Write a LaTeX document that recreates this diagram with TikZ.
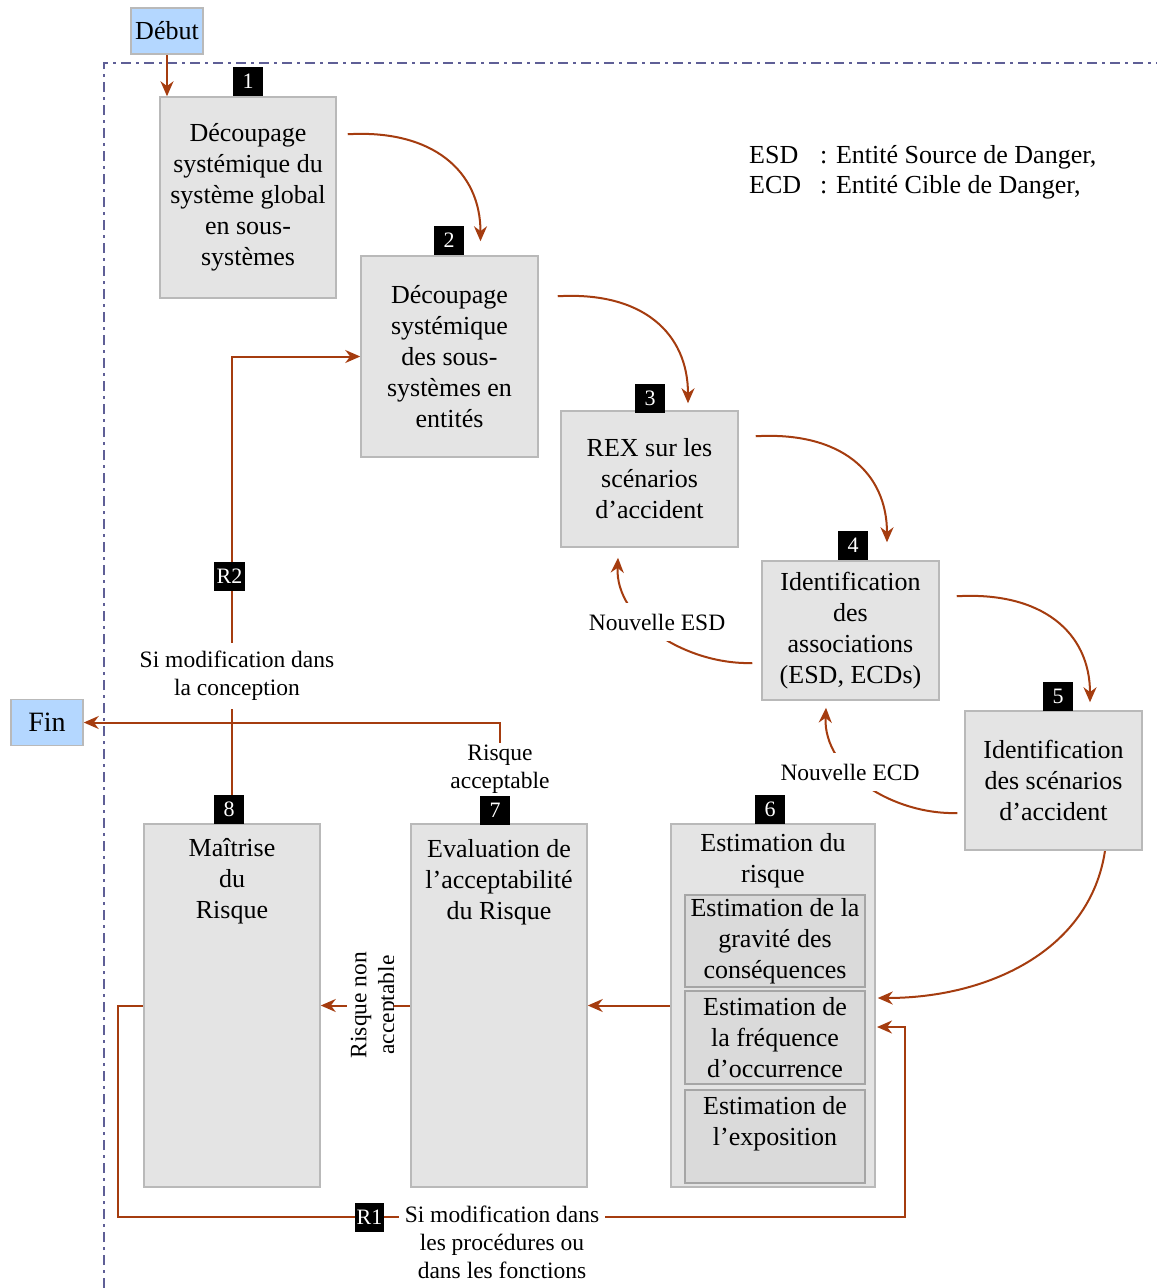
\documentclass[tikz,border=0pt]{standalone}
\usepackage{fontspec}
\setmainfont{Liberation Serif}
\usetikzlibrary{arrows.meta,backgrounds}
\definecolor{rust}{RGB}{165,60,15}
\definecolor{boxfill}{RGB}{228,228,228}
\definecolor{boxline}{RGB}{185,185,185}
\definecolor{subfill}{RGB}{218,218,218}
\definecolor{subline}{RGB}{165,165,165}
\definecolor{bluefill}{RGB}{180,215,255}
\definecolor{frameline}{RGB}{95,95,150}
\begin{document}
\begin{tikzpicture}[x=1pt,y=-1pt,
  box/.style={draw=boxline,fill=boxfill,line width=1.5pt,inner sep=0pt,align=center,font=\fontsize{26}{31}\selectfont},
  subbox/.style={draw=subline,fill=subfill,line width=1.2pt,inner sep=0pt,align=center,minimum width=180pt,font=\fontsize{26}{31}\selectfont},
  boxtext/.style={inner sep=0pt,align=center,anchor=north,font=\fontsize{26}{31}\selectfont},
  termbox/.style={draw=boxline,fill=bluefill,line width=1.5pt,inner sep=0pt,minimum width=72pt,minimum height=46pt},
  badge/.style={fill=black,text=white,inner sep=0pt,minimum width=30pt,minimum height=29pt,font=\fontsize{22}{24}\selectfont},
  lbl/.style={fill=white,align=center,inner sep=2pt,font=\fontsize{23.5}{28}\selectfont},
  arr/.style={draw=rust,line width=2pt,-{Stealth[length=15pt,width=13pt]}},
  framestyle/.style={draw=frameline,line width=1.5pt,dash pattern=on 10pt off 5pt on 3pt off 5pt}
]
\useasboundingbox (0,0) rectangle (1157,1288);

% terminals
\node[termbox,font=\fontsize{26}{31}\selectfont] (debut) at (167,31) {Début};
\node[termbox,font=\fontsize{28}{31}\selectfont] (fin) at (47,722.5) {Fin};

% boxes
\node[box,minimum width=176pt,minimum height=201pt] (b1) at (248,197.5)
  {\raisebox{-2pt}{\parbox{170pt}{\centering Découpage\\systémique du\\système global\\en sous-\\systèmes}}};
\node[box,minimum width=177pt,minimum height=201pt] (b2) at (449.5,356.5)
  {Découpage\\systémique\\des sous-\\systèmes en\\entités};
\node[box,minimum width=177pt,minimum height=136pt] (b3) at (649.5,479)
  {REX sur les\\scénarios\\d’accident};
\node[box,minimum width=177pt,minimum height=139pt] (b4) at (850.5,630.5)
  {Identification\\des\\associations\\(ESD, ECDs)};
\node[box,minimum width=177pt,minimum height=139pt] (b5) at (1053.5,780.5)
  {Identification\\des scénarios\\d’accident};
\node[box,minimum width=204pt,minimum height=363pt] (b6) at (773,1005.5) {};
\node[box,minimum width=176pt,minimum height=363pt] (b7) at (499,1005.5) {};
\node[box,minimum width=176pt,minimum height=363pt] (b8) at (232,1005.5) {};

\node[boxtext] (t6) at (773,833) {Estimation du\\risque};
\node[boxtext] (t7) at (499,839) {Evaluation de\\l’acceptabilité\\du Risque};
\node[boxtext] (t8) at (232,838) {Maîtrise\\du\\Risque};

\node[subbox,minimum height=92pt] (s1) at (775,941) {Estimation de la\\gravité des\\conséquences};
\node[subbox,minimum height=93pt] (s2) at (775,1037.5) {Estimation de\\la fréquence\\d’occurrence};
\node[subbox,minimum height=93pt] (s3) at (775,1136.5) {Estimation de\\l’exposition\\\mbox{}};

% badges
\node[badge] (n1) at (248,81.5) {1};
\node[badge] (n2) at (449,240) {2};
\node[badge] (n3) at (650,398.5) {3};
\node[badge] (n4) at (853,545) {4};
\node[badge] (n5) at (1058,696) {5};
\node[badge] (n6) at (770,809) {6};
\node[badge] (n7) at (495,810) {7};
\node[badge] (n8) at (229,809) {8};
\node[badge,minimum width=31pt] (r2) at (229.5,576.5) {R2};
\node[badge,minimum width=29pt] (r1) at (369.5,1217) {R1};

% legend
\node[anchor=north west,inner sep=0pt,font=\fontsize{26}{30}\selectfont] (legend) at (749,142)
  {\begin{tabular}{@{}l@{\hspace{19pt}}l@{}}ESD & : Entité Source de Danger,\\ ECD & : Entité Cible de Danger,\end{tabular}};

% labels
\node[lbl,inner xsep=5pt,inner ysep=11pt] (lesd) at (657,622) {Nouvelle ESD};
\node[lbl,inner xsep=5pt,inner ysep=11pt] (lecd) at (850,772) {Nouvelle ECD};
\node[lbl,inner ysep=8pt] (lconc) at (237,676) {Si modification dans\\la conception};
\node[lbl] (lra) at (500,769) {Risque\\acceptable};
\node[lbl,anchor=north,inner xsep=6pt] (lr1) at (502,1204) {Si modification dans\\les procédures ou\\dans les fonctions};
\begin{scope}
  \clip (340,930) rectangle (393,1080);
  \node[lbl,rotate=90,inner sep=4pt] (lrna) at (375,1005) {Risque non\\acceptable};
\end{scope}

\coordinate (r1l) at (118,1217);
\coordinate (r1r) at (905,1217);
\coordinate (e6in) at (877,1027);

\begin{scope}[on background layer]
  \fill[white] (0,0) rectangle (1157,1288);
  \draw[framestyle] (104,1288) -- (104,63) -- (1157,63);
  % main flow
  \draw[arr] (debut.south) -- (debut.south |- b1.north);
  \draw[arr] ([shift={(11,38)}]b1.north east) .. controls +(85,-5) and +(0,-70) .. ([shift={(31,-14)}]b2.north);
  \draw[arr] ([shift={(19,41)}]b2.north east) .. controls +(85,-5) and +(0,-70) .. ([shift={(38.5,-7)}]b3.north);
  \draw[arr] ([shift={(17,26)}]b3.north east) .. controls +(85,-5) and +(0,-70) .. ([shift={(36.5,-18)}]b4.north);
  \draw[arr] ([shift={(17,36)}]b4.north east) .. controls +(85,-5) and +(0,-70) .. ([shift={(36.5,-8)}]b5.north);
  \draw[arr] ([shift={(51.5,0)}]b5.south) .. controls +(-15,100) and +(110,0) .. ([shift={(2,-7.5)}]b6.east);
  % feedback
  \draw[arr] ([shift={(-9,32.5)}]b4.west) .. controls +(-63,2) and +(-3,64) .. ([shift={(-31.5,10)}]b3.south);
  \draw[arr] ([shift={(-7,32.5)}]b5.west) .. controls +(-63,2) and +(-3,64) .. ([shift={(-24.5,7)}]b4.south);
  % horizontal flow
  \draw[arr] (b6.west) -- (b7.east);
  \draw[arr] (b7.west) -- (b8.east);
  % loops
  \draw[arr] (b8.north) |- (b2.west);
  \draw[arr] (lra.north) |- (fin.east);
  \draw[arr] (b8.west) -| (r1l) -- (r1r) |- (e6in);
\end{scope}
\end{tikzpicture}
\end{document}
